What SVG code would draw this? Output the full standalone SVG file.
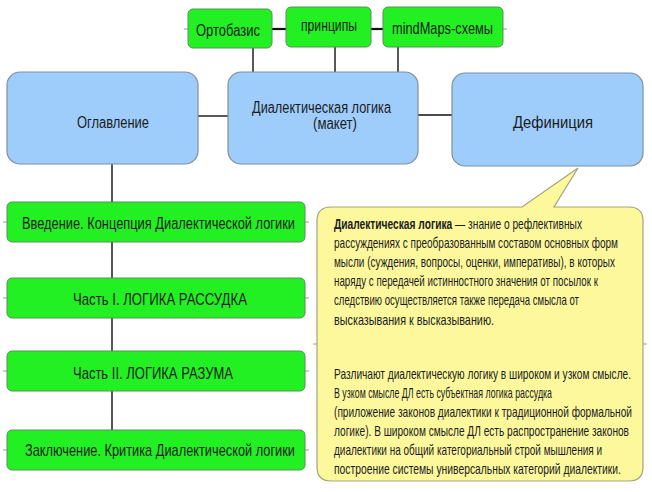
<svg xmlns="http://www.w3.org/2000/svg" width="652" height="492" viewBox="0 0 652 492">
<style>
text{font-family:"Liberation Sans",Arial,sans-serif;fill:#1c1c1c}
.g{fill:#22f022;stroke:#5a8f5a;stroke-width:1}
.b{fill:#9fcdfb;stroke:#7f8f9f;stroke-width:1.2}
.c{stroke:#111;stroke-width:1.4;fill:none}
.ct{stroke:#111;stroke-width:2.2;fill:none}
.s{stroke:#9a9a9a;stroke-width:1;fill:none}
.t17{font-size:17px}
.t16{font-size:16px}
.t15{font-size:15px}
</style>
<rect width="652" height="492" fill="#ffffff"/>
<g id="connectors">
<line class="ct" x1="272" y1="29" x2="286" y2="29"/>
<line class="ct" x1="371" y1="29" x2="383" y2="29"/>
<line class="s" x1="184" y1="29" x2="188" y2="29"/>
<line class="s" x1="503" y1="29" x2="507" y2="29"/>
<line class="c" x1="253" y1="48" x2="253" y2="72"/>
<line class="c" x1="335" y1="47" x2="335" y2="72"/>
<line class="c" x1="398" y1="47" x2="398" y2="72"/>
<line class="c" x1="198" y1="116" x2="228" y2="116"/>
<line class="c" x1="418" y1="115" x2="452" y2="115"/>
<line class="c" x1="112" y1="164" x2="112" y2="430"/>
<line class="s" x1="3" y1="222" x2="7" y2="222"/>
<line class="s" x1="305" y1="222" x2="309" y2="222"/>
<line class="s" x1="3" y1="298" x2="7" y2="298"/>
<line class="s" x1="305" y1="298" x2="309" y2="298"/>
<line class="s" x1="3" y1="371" x2="7" y2="371"/>
<line class="s" x1="305" y1="371" x2="309" y2="371"/>
<line class="s" x1="3" y1="450" x2="7" y2="450"/>
<line class="s" x1="305" y1="450" x2="309" y2="450"/>
<line class="s" x1="313" y1="344" x2="317" y2="344"/>
<line class="s" x1="643" y1="344" x2="647" y2="344"/>
</g>
<g id="n-ortobazis">
<rect class="g" x="188" y="9" width="84" height="39" rx="5"/>
<text class="t16" x="228" y="35.5" text-anchor="middle" textLength="64" lengthAdjust="spacingAndGlyphs">Ортобазис</text>
</g>
<g id="n-principy">
<rect class="g" x="286" y="7" width="85" height="40" rx="5"/>
<text class="t16" x="329" y="30.5" text-anchor="middle" textLength="56" lengthAdjust="spacingAndGlyphs">принципы</text>
</g>
<g id="n-mindmaps">
<rect class="g" x="383" y="7" width="120" height="40" rx="5"/>
<text class="t16" x="442.5" y="33.5" text-anchor="middle" textLength="101" lengthAdjust="spacingAndGlyphs">mindMaps-схемы</text>
</g>
<g id="n-oglavlenie">
<rect class="b" x="7" y="72" width="191" height="92" rx="13"/>
<text class="t16" x="113" y="127.5" text-anchor="middle" textLength="72" lengthAdjust="spacingAndGlyphs">Оглавление</text>
</g>
<g id="n-dialektika">
<rect class="b" x="228" y="72" width="190" height="92" rx="13"/>
<text class="t16" x="321.5" y="112.5" text-anchor="middle" textLength="139" lengthAdjust="spacingAndGlyphs">Диалектическая логика</text>
<text class="t16" x="335" y="129" text-anchor="middle" textLength="44" lengthAdjust="spacingAndGlyphs">(макет)</text>
</g>
<g id="n-definiciya">
<rect class="b" x="452" y="73" width="191" height="93" rx="13"/>
<text class="t16" x="553" y="127.5" text-anchor="middle" textLength="80" lengthAdjust="spacingAndGlyphs">Дефиниция</text>
</g>
<g id="n-vvedenie">
<rect class="g" x="7" y="202" width="298" height="40" rx="5"/>
<text class="t17" x="158.5" y="228.5" text-anchor="middle" textLength="273" lengthAdjust="spacingAndGlyphs">Введение. Концепция Диалектической логики</text>
</g>
<g id="n-chast1">
<rect class="g" x="7" y="278" width="298" height="40" rx="5"/>
<text class="t17" x="160" y="304.5" text-anchor="middle" textLength="174" lengthAdjust="spacingAndGlyphs">Часть I. ЛОГИКА РАССУДКА</text>
</g>
<g id="n-chast2">
<rect class="g" x="7" y="351" width="298" height="40" rx="5"/>
<text class="t17" x="153" y="378.5" text-anchor="middle" textLength="160" lengthAdjust="spacingAndGlyphs">Часть II. ЛОГИКА РАЗУМА</text>
</g>
<g id="n-zaklyuchenie">
<rect class="g" x="7" y="430" width="298" height="40" rx="5"/>
<text class="t17" x="160" y="455.5" text-anchor="middle" textLength="270" lengthAdjust="spacingAndGlyphs">Заключение. Критика Диалектической логики</text>
</g>
<g id="n-callout">
<path d="M331 207 H522 L578 168 L554 207 H629 Q643 207 643 221 V467 Q643 481 629 481 H331 Q317 481 317 467 V221 Q317 207 331 207 Z" fill="#fdf89c" stroke="#a3a37a" stroke-width="1.2"/>
<text class="t15" x="334" y="228.5" textLength="248" lengthAdjust="spacingAndGlyphs"><tspan font-weight="bold">Диалектическая логика</tspan> — знание о рефлективных</text>
<text class="t15" x="334" y="247.5" textLength="284" lengthAdjust="spacingAndGlyphs">рассуждениях с преобразованным составом основных форм</text>
<text class="t15" x="334" y="266.5" textLength="281" lengthAdjust="spacingAndGlyphs">мысли (суждения, вопросы, оценки, императивы), в которых</text>
<text class="t15" x="334" y="285.5" textLength="264" lengthAdjust="spacingAndGlyphs">наряду с передачей истинностного значения от посылок к</text>
<text class="t15" x="334" y="304.5" textLength="245" lengthAdjust="spacingAndGlyphs">следствию осуществляется также передача смысла от</text>
<text class="t15" x="334" y="324.5" textLength="160" lengthAdjust="spacingAndGlyphs">высказывания к высказыванию.</text>
<text class="t15" x="334" y="378.5" textLength="297" lengthAdjust="spacingAndGlyphs">Различают диалектическую логику в широком и узком смысле.</text>
<text class="t15" x="334" y="397.5" textLength="218" lengthAdjust="spacingAndGlyphs">В узком смысле ДЛ есть субъектная логика рассудка</text>
<text class="t15" x="334" y="416.5" textLength="298" lengthAdjust="spacingAndGlyphs">(приложение законов диалектики к традиционной формальной</text>
<text class="t15" x="334" y="435.5" textLength="295" lengthAdjust="spacingAndGlyphs">логике). В широком смысле ДЛ есть распространение законов</text>
<text class="t15" x="334" y="454.5" textLength="268" lengthAdjust="spacingAndGlyphs">диалектики на общий категориальный строй мышления и</text>
<text class="t15" x="334" y="473.5" textLength="287" lengthAdjust="spacingAndGlyphs">построение системы универсальных категорий диалектики.</text>
</g>
</svg>
